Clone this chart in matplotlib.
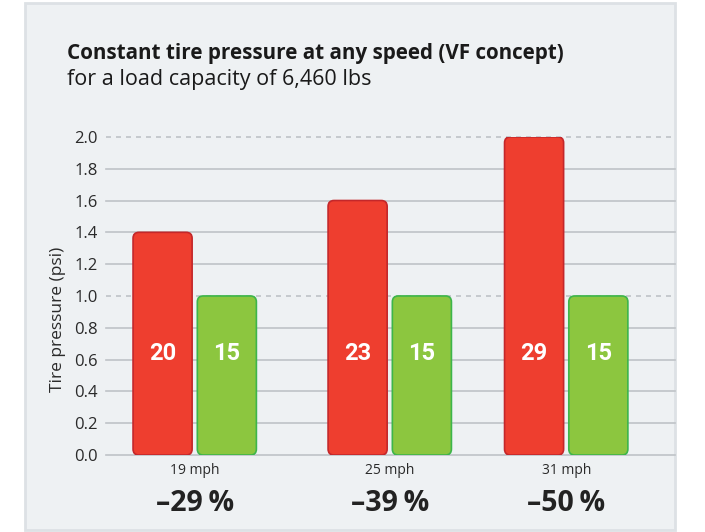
import numpy as np
import matplotlib.pyplot as plt
from matplotlib.patches import FancyBboxPatch, Rectangle
from matplotlib.transforms import blended_transform_factory

plt.rcParams['font.family'] = ['Open Sans', 'DejaVu Sans']

speeds = ['19 mph', '25 mph', '31 mph']
standard = [1.4, 1.6, 2.0]      # tire pressure, standard tire
vf = [1.0, 1.0, 1.0]            # tire pressure, VF tire
standard_labels = ['20', '23', '29']
vf_labels = ['15', '15', '15']
reductions = ['–29\u2009%', '–39\u2009%', '–50\u2009%']
yticks = [0.0, 0.2, 0.4, 0.6, 0.8, 1.0, 1.2, 1.4, 1.6, 1.8, 2.0]

x = np.array([0, 1.05, 2])
width = 0.318
offset = 0.173

red, red_edge = '#ee3e2f', '#c4272a'
green, green_edge = '#8cc63f', '#3db54a'

fig = plt.figure(figsize=(7.05, 5.32), dpi=100, facecolor='white')
panel = Rectangle((0.0355, 0.004), 0.922, 0.99, transform=fig.transFigure,
                  facecolor='#eef1f3', edgecolor='#dde1e5', lw=2, zorder=-10)
fig.add_artist(panel)

ax = fig.add_axes([0.150, 0.1447, 0.807, 0.598])
ax.set_zorder(1)
ax.set_facecolor('none')
ax.set_xlim(-0.479, 2.584)
ax.set_ylim(0, 2.0)

for y in yticks:
    dashed = y in (1.0, 2.0)
    ax.axhline(y, color='#bfc3c7', lw=1.2, ls=(0, (3, 3)) if dashed else '-', zorder=1, clip_on=False)


def rbar(xc, h, fc, ec, label):
    p = FancyBboxPatch((xc - width / 2, 0), width, h,
                       boxstyle='round,pad=0,rounding_size=0.032',
                       mutation_aspect=1.17, facecolor=fc, edgecolor=ec, lw=1.2, zorder=3)
    ax.add_patch(p)
    ax.text(xc, 0.64, label, ha='center', va='center', color='white',
            fontsize=17, fontweight='bold', family=['Roboto', 'DejaVu Sans'], zorder=4)


for i in range(len(speeds)):
    rbar(x[i] - offset, standard[i], red, red_edge, standard_labels[i])
    rbar(x[i] + offset, vf[i], green, green_edge, vf_labels[i])

ax.set_xticks(x, speeds)
ax.set_yticks(yticks, [f'{v:.1f}' for v in yticks])
ax.tick_params(axis='both', length=0, colors='#2a2a2a')
ax.tick_params(axis='x', labelsize=10, pad=6)
ax.tick_params(axis='y', labelsize=12, pad=6)
for s in ax.spines.values():
    s.set_visible(False)

tr = blended_transform_factory(ax.transData, ax.transAxes)
for i, r in enumerate(reductions):
    ax.text(x[i], -0.151, r, transform=tr, ha='center', va='center',
            fontsize=20.5, fontweight='bold', color='#222222')

fig.text(0.082, 0.40, 'Tire pressure (psi)', rotation=90, ha='center', va='center',
         fontsize=12.5, color='#2a2a2a')
fig.text(0.095, 0.899, 'Constant tire pressure at any speed (VF concept)', ha='left', va='center',
         fontsize=14.9, fontweight='bold', color='#1a1a1a')
fig.text(0.095, 0.850, 'for a load capacity of 6,460 lbs', ha='left', va='center',
         fontsize=15.5, color='#1a1a1a')

fig.savefig('out.png', dpi=100)
